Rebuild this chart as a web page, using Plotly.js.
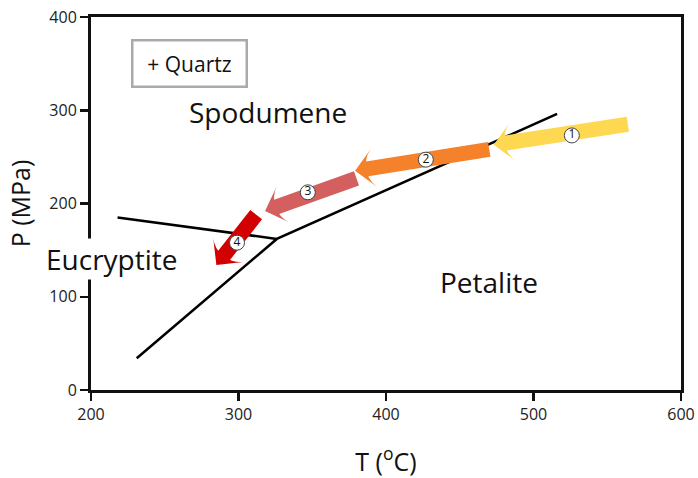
<!DOCTYPE html>
<html>
<head>
<meta charset="utf-8">
<script src="https://cdn.plot.ly/plotly-3.0.1.min.js"></script>
<style>html,body{margin:0;padding:0;background:#fff;}#chart{width:698px;height:478px;}</style>
</head>
<body>
<div id="chart"></div>
<script>
// Phase boundaries (T in °C, P in MPa)
const boundaryAT = [218, 326];
const boundaryAP = [185, 162];
const boundaryBT = [231, 326, 516];
const boundaryBP = [34, 162, 296];

// Arrows: tail -> tip
const arrowTailT = [564, 470, 380, 312];
const arrowTailP = [285, 258, 227, 188];
const arrowTipT = [473, 379, 318, 285];
const arrowTipP = [263, 235, 192, 134];
const arrowColors = ['#FFD851', '#F5822A', '#D45F5F', '#D20000'];

// Step number markers
const stepLabels = ['1', '2', '3', '4'];
const stepT = [526, 427, 347, 299];
const stepP = [273, 247, 212, 158];

// Field labels
const fieldNames = ['Spodumene', 'Petalite', 'Eucryptite'];
const fieldT = [320, 470, 214];
const fieldP = [298, 116, 140];

const FONT = '"Open Sans", "DejaVu Sans", sans-serif';

const traces = [];
traces.push({x: boundaryAT, y: boundaryAP, mode: 'lines', line: {color: '#000', width: 2.5}, hoverinfo: 'skip'});
traces.push({x: boundaryBT, y: boundaryBP, mode: 'lines', line: {color: '#000', width: 2.5}, hoverinfo: 'skip'});

for (let i = 0; i < arrowTailT.length; i++) {
  traces.push({
    x: [arrowTailT[i], arrowTipT[i]],
    y: [arrowTailP[i], arrowTipP[i]],
    mode: 'lines+markers',
    line: {color: arrowColors[i], width: 15, backoff: 'auto'},
    marker: {symbol: 'arrow-wide', angleref: 'previous', size: 27, color: arrowColors[i], line: {width: 0}},
    cliponaxis: false,
    hoverinfo: 'skip'
  });
}

traces.push({
  x: stepT, y: stepP, text: stepLabels,
  mode: 'markers+text', textposition: 'middle center',
  textfont: {family: FONT, size: 12, color: '#111'},
  marker: {size: 15, color: '#fff', line: {color: '#444', width: 1}},
  hoverinfo: 'skip'
});

const annotations = fieldNames.map((n, i) => ({
  x: fieldT[i], y: fieldP[i], xref: 'x', yref: 'y', text: n, showarrow: false,
  font: {family: FONT, size: 28, color: '#111'},
  bgcolor: i === 2 ? '#fff' : 'rgba(0,0,0,0)', borderpad: 1
}));
annotations.push({
  x: 266.6, y: 349.8, xref: 'x', yref: 'y', text: '+ Quartz', showarrow: false,
  font: {family: FONT, size: 21, color: '#111'},
  bordercolor: '#AAAAAA', borderwidth: 2.5, borderpad: 0, width: 112, height: 44
});

const axisCommon = {
  showgrid: false, zeroline: false, showline: true, linecolor: '#111', linewidth: 3,
  mirror: true, ticks: 'outside', ticklen: 8, tickwidth: 2.5, tickcolor: '#111',
  tickfont: {family: FONT, size: 16, color: '#222'}
};

const layout = {
  width: 698, height: 478,
  margin: {l: 91, r: 17, t: 17, b: 88},
  paper_bgcolor: '#fff', plot_bgcolor: '#fff',
  showlegend: false,
  xaxis: Object.assign({}, axisCommon, {
    range: [200, 600], tickvals: [200, 300, 400, 500, 600],
    title: {text: 'T (<sup>o</sup>C)', font: {family: FONT, size: 25, color: '#111'}, standoff: 30}
  }),
  yaxis: Object.assign({}, axisCommon, {
    range: [0, 400], tickvals: [0, 100, 200, 300, 400],
    title: {text: 'P (MPa)', font: {family: FONT, size: 25, color: '#111'}, standoff: 12}
  }),
  annotations: annotations
};

Plotly.newPlot('chart', traces, layout, {displayModeBar: false, staticPlot: true});
</script>
</body>
</html>
